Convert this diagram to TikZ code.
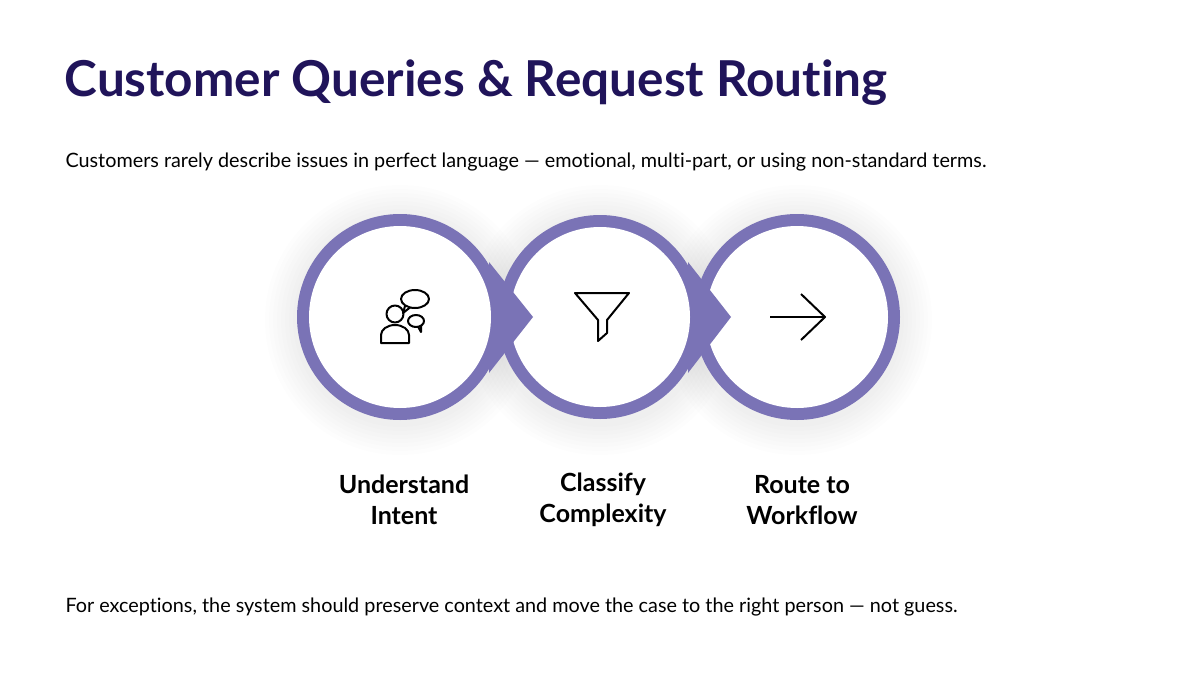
\documentclass[tikz,border=0pt]{standalone}
\usepackage{fontspec}
\setmainfont[Ligatures={NoCommon,NoRequired,NoContextual}]{Lato}
\definecolor{navy}{HTML}{20145A}
\definecolor{ring}{HTML}{7A73B6}
\begin{document}
\begin{tikzpicture}[x=1pt,y=-1pt,
  lbl/.style={font=\fontsize{25}{31}\selectfont\bfseries,align=center,text=black},
  icon/.style={line width=2pt,black,line join=round}]
\useasboundingbox[fill=white] (0,0) rectangle (1200,675);
\node[anchor=west,text=navy,font=\fontsize{49.5}{52}\selectfont\bfseries] (title) at (61,83) {Customer Queries \& Request Routing};
\node[anchor=west,font=\fontsize{19.8}{22}\selectfont] (sub) at (62,162) {Customers rarely describe issues in perfect language — emotional, multi-part, or using non-standard terms.};
\node[anchor=west,font=\fontsize{19.8}{22}\selectfont] (foot) at (62,607) {For exceptions, the system should preserve context and move the case to the right person — not guess.};
% soft shadow
\foreach \r in {135,131,...,107}{
  \foreach \cx in {400,600,797}{\fill[black,opacity=0.008] (\cx,320) circle (\r);}}
% circles, drawn right to left
\fill[ring] (797,317) circle (103);
\fill[white] (797,317) circle (91);
\fill[ring] (600,317) circle (102);
\fill[ring] (688,262) -- (731,317) -- (688,373) -- cycle;
\fill[white] (600,317) circle (90);
\fill[ring] (400,317) circle (103);
\fill[ring] (489,262) -- (533,317) -- (489,373) -- cycle;
\fill[white] (400,317) circle (91);
\coordinate (c1) at (400,317);
\coordinate (c2) at (600,317);
\coordinate (c3) at (797,317);
% icon 1: person with speech bubbles
\draw[icon] (395,314) circle (8.5);
\draw[icon] (381,343) -- (381,335) arc[start angle=180,end angle=360,x radius=14,y radius=10] -- (409,343) -- cycle;
\draw[icon] (415,299) ellipse (14 and 9);
\draw[icon] (405,306) -- (403,313) -- (410,307.5);
\draw[icon] (416,321) ellipse (8 and 6);
\draw[icon] (418,326.5) -- (421,332) -- (421,326);
% icon 2: funnel
\draw[icon] (575,293) -- (629,293) -- (607,320) -- (607,333) -- (598,341) -- (598,320) -- cycle;
% icon 3: arrow
\draw[icon] (770,317) -- (825,317);
\draw[icon] (801,294) -- (825,317) -- (801,340);
% labels
\node[lbl] (l1) at (404,500) {Understand\\Intent};
\node[lbl] (l2) at (603,500) {Classify\\Complexity};
\node[lbl] (l3) at (802,500) {Route to\\Workflow};
\end{tikzpicture}
\end{document}
